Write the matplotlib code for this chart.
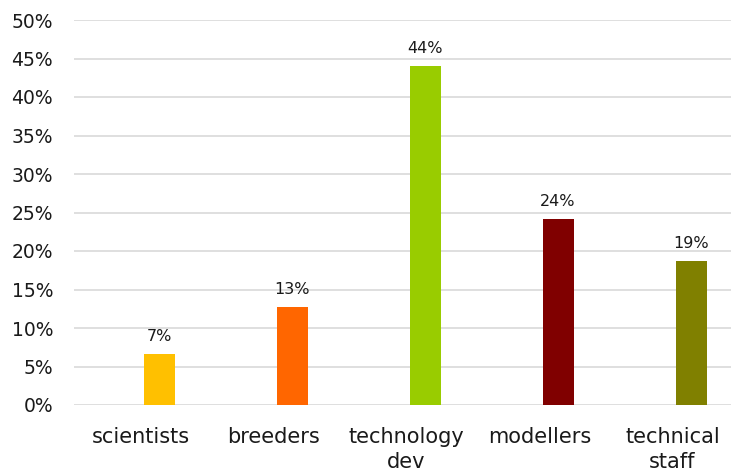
import matplotlib
matplotlib.use("Agg")
import matplotlib.pyplot as plt
from matplotlib.ticker import FuncFormatter, MultipleLocator

categories = ["scientists", "breeders", "technology\ndev", "modellers", "technical\nstaff"]
shares = [6.6, 12.7, 44.0, 24.1, 18.7]
colors = ["#FFC000", "#FF6600", "#99CC00", "#800000", "#808000"]

plt.rcParams["font.family"] = ["DejaVu Sans"]

fig = plt.figure(figsize=(7.31, 4.74), dpi=100)
# plot area runs slightly past the right edge of the canvas
ax = fig.add_axes([74 / 731, 69 / 474, 665 / 731, 385 / 474])

x = list(range(len(categories)))
bar_offset = 0.14
bx = [xi + bar_offset for xi in x]
ax.bar(bx, shares, width=0.233, color=colors, zorder=3)

for xi, v in zip(bx, shares):
    ax.text(xi, v + 1.3, f"{v:.0f}%", ha="center", va="bottom",
            fontsize=11.5, color="#1a1a1a")

ax.set_ylim(0, 50)
ax.set_xlim(-0.5, 4.5)
ax.yaxis.set_major_locator(MultipleLocator(5))
ax.yaxis.set_major_formatter(FuncFormatter(lambda v, _: f"{v:.0f}%"))
ax.grid(axis="y", color="#d9d9d9", linewidth=1.2, zorder=0)

for s in ax.spines.values():
    s.set_visible(False)
ax.tick_params(axis="y", length=0, labelsize=13.5, colors="#1a1a1a", pad=15)
ax.tick_params(axis="x", length=0, labelsize=15, colors="#1a1a1a", pad=16)
ax.set_xticks(x)
ax.set_xticklabels(categories, linespacing=1.3)

fig.savefig("out.png", dpi=100)
